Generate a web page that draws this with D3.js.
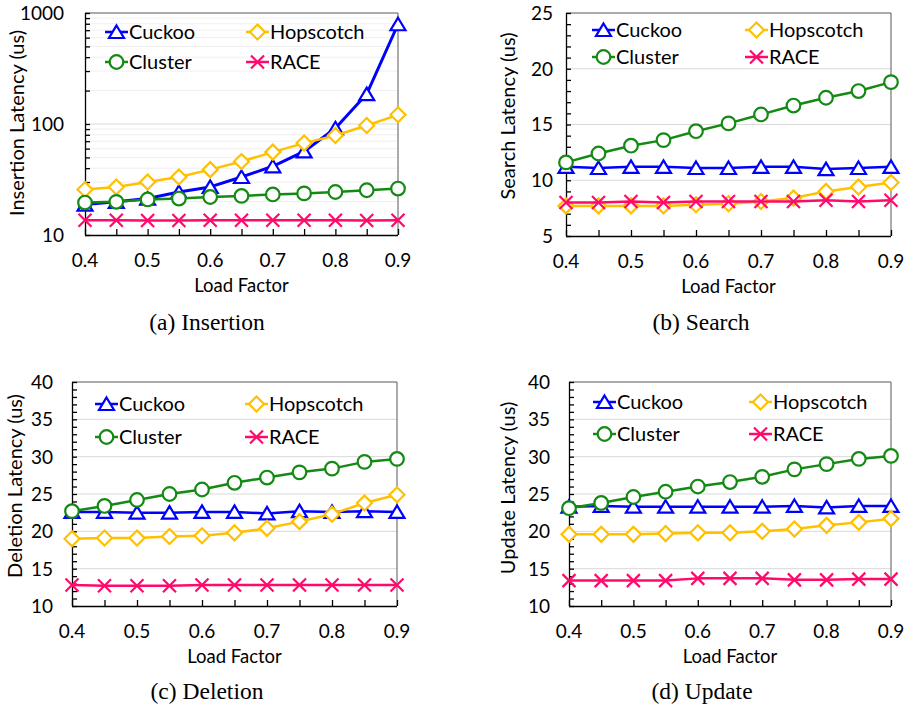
<!DOCTYPE html>
<html>
<head>
<meta charset="utf-8">
<script src="https://cdn.jsdelivr.net/npm/d3@7"></script>
<style>
  html, body { margin: 0; padding: 0; background: #fff; }
  svg { display: block; }
  text { font-family: Lato, "Open Sans", sans-serif; fill: #000; }
  .cap { font-family: "Liberation Serif", "DejaVu Serif", serif; }
</style>
</head>
<body>
<div id="chart"></div>
<script>
// ---------- data ----------
const loadFactors = [0.4, 0.45, 0.5, 0.55, 0.6, 0.65, 0.7, 0.75, 0.8, 0.85, 0.9];
const xTickValues = [0.4, 0.5, 0.6, 0.7, 0.8, 0.9];
const xTickLabels = ["0.4", "0.5", "0.6", "0.7", "0.8", "0.9"];
const seriesNames = ["Cuckoo", "Hopscotch", "Cluster", "RACE"];

const insertCuckoo    = [18.8, 19.9, 21.3, 24.4, 27.1, 33.3, 41.6, 56.6, 91.5, 186, 792];
const insertHopscotch = [25.7, 27.1, 30.0, 33.3, 38.8, 46.0, 55.8, 67.3, 78.8, 97, 121];
const insertCluster   = [19.6, 19.9, 20.9, 21.3, 22.0, 22.5, 23.2, 23.7, 24.4, 25.3, 26.2];
const insertRACE      = [13.6, 13.6, 13.5, 13.5, 13.6, 13.6, 13.6, 13.6, 13.6, 13.5, 13.6];

const searchCuckoo    = [11.2, 11.1, 11.2, 11.2, 11.1, 11.1, 11.2, 11.2, 11.0, 11.1, 11.2];
const searchHopscotch = [7.7, 7.7, 7.7, 7.7, 7.8, 7.9, 8.1, 8.4, 9.0, 9.4, 9.8];
const searchCluster   = [11.6, 12.4, 13.1, 13.6, 14.4, 15.1, 15.9, 16.7, 17.4, 18.0, 18.8];
const searchRACE      = [8.0, 8.0, 8.1, 8.0, 8.1, 8.1, 8.1, 8.1, 8.2, 8.1, 8.2];

const deleteCuckoo    = [22.6, 22.6, 22.5, 22.5, 22.6, 22.6, 22.4, 22.7, 22.6, 22.7, 22.6];
const deleteHopscotch = [19.0, 19.1, 19.1, 19.3, 19.4, 19.8, 20.4, 21.3, 22.3, 23.8, 24.9];
const deleteCluster   = [22.7, 23.4, 24.2, 25.0, 25.6, 26.5, 27.2, 27.9, 28.4, 29.3, 29.7];
const deleteRACE      = [12.8, 12.7, 12.7, 12.7, 12.8, 12.8, 12.8, 12.8, 12.8, 12.8, 12.8];

const updateCuckoo    = [23.3, 23.4, 23.3, 23.3, 23.3, 23.3, 23.3, 23.4, 23.2, 23.4, 23.4];
const updateHopscotch = [19.6, 19.6, 19.6, 19.7, 19.8, 19.8, 20.0, 20.3, 20.8, 21.2, 21.7];
const updateCluster   = [23.1, 23.8, 24.6, 25.3, 26.0, 26.6, 27.3, 28.3, 29.0, 29.7, 30.1];
const updateRACE      = [13.4, 13.4, 13.4, 13.4, 13.7, 13.7, 13.7, 13.5, 13.5, 13.6, 13.6];

const insertionTicks = [10, 100, 1000];
const insertionMinor = [20,30,40,50,60,70,80,90,200,300,400,500,600,700,800,900];
const searchTicks = [5, 10, 15, 20, 25];
const deletionTicks = [10, 15, 20, 25, 30, 35, 40];
const updateTicks = [10, 15, 20, 25, 30, 35, 40];

// ---------- styles ----------
const colors = { Cuckoo: "#0000ff", Hopscotch: "#ffc000", Cluster: "#148a14", RACE: "#ff0a6c" };

const W = 906, H = 712;
const svg = d3.select("#chart").append("svg").attr("width", W).attr("height", H);

function markerPath(name) {
  if (name === "Cuckoo") return "M0,-6.5L7.5,6L-7.5,6Z";
  if (name === "Hopscotch") return "M0,-7.5L7.5,0L0,7.5L-7.5,0Z";
  if (name === "RACE") return "M-6.5,-6.5L6.5,6.5M6.5,-6.5L-6.5,6.5";
  return null;
}
function drawMarker(g, name, x, y) {
  const c = colors[name];
  if (name === "Cluster") {
    g.append("circle").attr("cx", x).attr("cy", y).attr("r", 6.8)
      .attr("fill", "#fff").attr("stroke", c).attr("stroke-width", 2.2);
  } else {
    g.append("path").attr("d", markerPath(name))
      .attr("transform", `translate(${x},${y})`)
      .attr("fill", name === "RACE" ? "none" : "#fff")
      .attr("stroke", c).attr("stroke-width", 2.2);
  }
}

function panel(cfg) {
  const g = svg.append("g");
  const x = d3.scaleLinear().domain([0.4, 0.9]).range([cfg.left, cfg.right]);
  const y = (cfg.log ? d3.scaleLog() : d3.scaleLinear()).domain(cfg.domain).range([cfg.bottom, cfg.top]);

  // minor gridlines (log panel)
  if (cfg.minor) {
    g.selectAll(".mg").data(cfg.minor).join("line")
      .attr("x1", cfg.left).attr("x2", cfg.right)
      .attr("y1", d => y(d)).attr("y2", d => y(d))
      .attr("stroke", "#efefef").attr("stroke-width", 1);
  }
  // major gridlines
  g.selectAll(".gl").data(cfg.ticks.slice(1, -1)).join("line")
    .attr("x1", cfg.left).attr("x2", cfg.right)
    .attr("y1", d => y(d)).attr("y2", d => y(d))
    .attr("stroke", "#d9d9d9").attr("stroke-width", 1);

  // frame top/right
  g.append("path")
    .attr("d", `M${cfg.left},${cfg.top}H${cfg.right}V${cfg.bottom}`)
    .attr("fill", "none").attr("stroke", "#595959").attr("stroke-width", 1);

  // y axis (inside ticks, no labels here)
  const minorTicks = cfg.minor ? cfg.minor.concat(cfg.ticks) : d3.range(cfg.domain[0], cfg.domain[1] + 0.001, 1);
  const yAxis = d3.axisRight(y).tickValues(minorTicks).tickSize(5).tickFormat("");
  const ya = g.append("g").attr("transform", `translate(${cfg.left},0)`).call(yAxis);
  ya.selectAll("path,line").attr("stroke", "#000").attr("stroke-width", 1.3);
  ya.select(".domain").attr("d", `M0.5,${cfg.top}V${cfg.bottom}`);

  // y tick labels
  g.selectAll(".yl").data(cfg.ticks).join("text")
    .attr("x", cfg.left - cfg.labelGap).attr("y", d => y(d))
    .attr("dy", "0.36em").attr("text-anchor", "end")
    .style("font-size", "19px").text(d => d);

  // x axis: inside ticks at each category
  const xAxis = d3.axisTop(x).tickValues(loadFactors).tickSize(6).tickFormat("");
  const xa = g.append("g").attr("transform", `translate(0,${cfg.bottom})`).call(xAxis);
  xa.selectAll("path,line").attr("stroke", "#000").attr("stroke-width", 1.3);
  xa.select(".domain").attr("d", `M${cfg.left},0.5H${cfg.right}`);

  g.selectAll(".xl").data(xTickValues).join("text")
    .attr("x", (d) => x(d)).attr("y", cfg.bottom + 32)
    .attr("text-anchor", "middle").style("font-size", "19px")
    .text((d, i) => xTickLabels[i]);

  // axis titles
  g.append("text").attr("x", (cfg.left + cfg.right) / 2).attr("y", cfg.bottom + 57)
    .attr("text-anchor", "middle").style("font-size", "18.5px").text("Load Factor");
  g.append("text")
    .attr("transform", `translate(${cfg.ytX},${cfg.ytY}) rotate(-90)`)
    .attr("text-anchor", "middle").attr("dy", "0.36em")
    .style("font-size", "20px").text(cfg.ytitle);

  // series
  cfg.series.forEach((vals, si) => {
    const name = seriesNames[si];
    const line = d3.line().x((d, i) => x(loadFactors[i])).y(d => y(d));
    g.append("path").datum(vals).attr("d", line)
      .attr("fill", "none").attr("stroke", colors[name])
      .attr("stroke-width", name === "Cuckoo" && cfg.log ? 3 : 2.5)
      .attr("stroke-linejoin", "round");
    const mg = g.append("g");
    vals.forEach((v, i) => drawMarker(mg, name, x(loadFactors[i]), y(v)));
  });

  // legend
  const lx = [cfg.legX, cfg.legX2];
  const ly = [cfg.legY, cfg.legY + cfg.legDY];
  seriesNames.forEach((name, i) => {
    const cx = lx[i % 2], cy = ly[Math.floor(i / 2)];
    g.append("line").attr("x1", cx).attr("x2", cx + 23).attr("y1", cy).attr("y2", cy)
      .attr("stroke", colors[name]).attr("stroke-width", 2.5);
    drawMarker(g, name, cx + 11.5, cy);
    g.append("text").attr("x", cx + 24).attr("y", cy).attr("dy", "0.36em")
      .style("font-size", "20px").text(name);
  });

  // caption
  g.append("text").attr("class", "cap")
    .attr("x", cfg.capX).attr("y", cfg.capY).attr("text-anchor", "middle")
    .style("font-size", "23.5px").text(cfg.caption);
}

panel({ left: 85, right: 398, top: 13, bottom: 235, log: true, domain: [10, 1000],
  ticks: insertionTicks, minor: insertionMinor, labelGap: 21,
  ytitle: "Insertion Latency (us)", ytX: 17, ytY: 123,
  series: [insertCuckoo, insertHopscotch, insertCluster, insertRACE],
  legX: 105, legX2: 246, legY: 32, legDY: 30,
  caption: "(a) Insertion", capX: 207, capY: 330 });

panel({ left: 566, right: 891, top: 13, bottom: 236, domain: [5, 25],
  ticks: searchTicks, labelGap: 13,
  ytitle: "Search Latency (us)", ytX: 508, ytY: 116,
  series: [searchCuckoo, searchHopscotch, searchCluster, searchRACE],
  legX: 592, legX2: 745, legY: 30, legDY: 27,
  caption: "(b) Search", capX: 701, capY: 330 });

panel({ left: 72, right: 397, top: 382, bottom: 606, domain: [10, 40],
  ticks: deletionTicks, labelGap: 19,
  ytitle: "Deletion Latency (us)", ytX: 15, ytY: 486,
  series: [deleteCuckoo, deleteHopscotch, deleteCluster, deleteRACE],
  legX: 95, legX2: 245, legY: 404, legDY: 33,
  caption: "(c) Deletion", capX: 207, capY: 699 });

panel({ left: 569, right: 891, top: 382, bottom: 606, domain: [10, 40],
  ticks: updateTicks, labelGap: 19,
  ytitle: "Update Latency (us)", ytX: 508, ytY: 488,
  series: [updateCuckoo, updateHopscotch, updateCluster, updateRACE],
  legX: 593, legX2: 749, legY: 402, legDY: 32,
  caption: "(d) Update", capX: 702, capY: 699 });
</script>
</body>
</html>
